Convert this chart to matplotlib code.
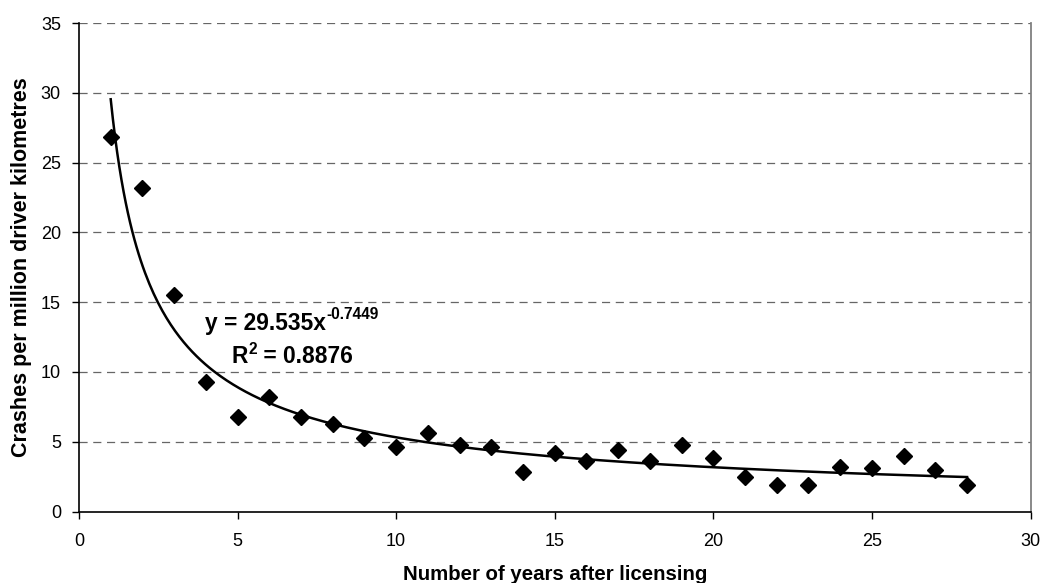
import numpy as np
import matplotlib
matplotlib.use("Agg")
import matplotlib.pyplot as plt

plt.rcParams['font.family'] = ['Liberation Sans', 'DejaVu Sans']

# Crash rate by years after licensing
years = [1, 2, 3, 4, 5, 6, 7, 8, 9, 10, 11, 12, 13, 14, 15, 16, 17, 18, 19, 20,
         21, 22, 23, 24, 25, 26, 27, 28]
crash_rate = [26.8, 23.2, 15.5, 9.3, 6.8, 8.2, 6.8, 6.3, 5.3, 4.6, 5.6, 4.8, 4.6, 2.8,
              4.2, 3.6, 4.4, 3.6, 4.8, 3.8, 2.5, 1.9, 1.9, 3.2, 3.1, 4.0, 3.0, 1.9]

# Power trend line y = a * x^b
fit_a = 29.535
fit_b = -0.7449
fit_r2 = 0.8876

W, H = 1042, 583
fig = plt.figure(figsize=(W / 100, H / 100), dpi=100)
ax = fig.add_axes([79 / W, 1 - 511.5 / H, 951.5 / W, 488.5 / H])

xs = np.linspace(years[0], years[-1], 400)
ax.plot(xs, fit_a * xs ** fit_b, color='black', linewidth=1.8, zorder=3)
ax.plot(years, crash_rate, linestyle='none', marker='D', markersize=8.3,
        color='black', zorder=4)

ax.set_xlim(0, 30)
ax.set_ylim(0, 35)
ax.set_xticks(range(0, 31, 5))
ax.set_yticks(range(0, 36, 5))

for yv in range(5, 36, 5):
    ax.axhline(yv, color='#666666', linestyle=(0, (6.5, 4.5)), linewidth=0.9, zorder=1)

ax.spines['top'].set_visible(False)
ax.spines['right'].set_color('#808080')
ax.spines['right'].set_linewidth(1.3)
ax.spines['left'].set_linewidth(1.2)
ax.spines['bottom'].set_linewidth(1.2)
ax.tick_params(axis='both', direction='out', length=5, width=1, labelsize=13,
               colors='black')
ax.tick_params(axis='x', pad=10.5)
ax.tick_params(axis='y', pad=8)

ax.set_xlabel('Number of years after licensing', fontsize=14.7, fontweight='bold',
              labelpad=11)
ax.set_ylabel('Crashes per million driver kilometres', fontsize=15.5,
              fontweight='bold', labelpad=6)

# Trend line equation, with superscripts placed after the preceding piece
fig.canvas.draw()
renderer = fig.canvas.get_renderer()


def follow(prev, text, size, rise_px, gap_px=0.0):
    bb = prev.get_window_extent(renderer)
    x0, y0 = prev.get_transform().transform(prev.get_position())
    t = fig.text((bb.x1 + gap_px) / W, (y0 + rise_px) / H, text, fontsize=size,
                 fontweight='bold', ha='left', va='baseline')
    fig.canvas.draw()
    return t


eq = ax.text(3.975, 12.97, 'y = %.3fx' % fit_a, fontsize=16.4, fontweight='bold',
             ha='left', va='baseline')
fig.canvas.draw()
follow(eq, '%.4f' % fit_b, 11.2, 11.7, 0.5)

r_txt = ax.text(4.817, 10.63, 'R', fontsize=16.4, fontweight='bold',
                ha='left', va='baseline')
fig.canvas.draw()
sup2 = follow(r_txt, '2', 11.2, 8.7, 0.5)
follow(sup2, ' = %.4f' % fit_r2, 16.4, -8.7, 0.0)

fig.savefig('out.png', dpi=100)
